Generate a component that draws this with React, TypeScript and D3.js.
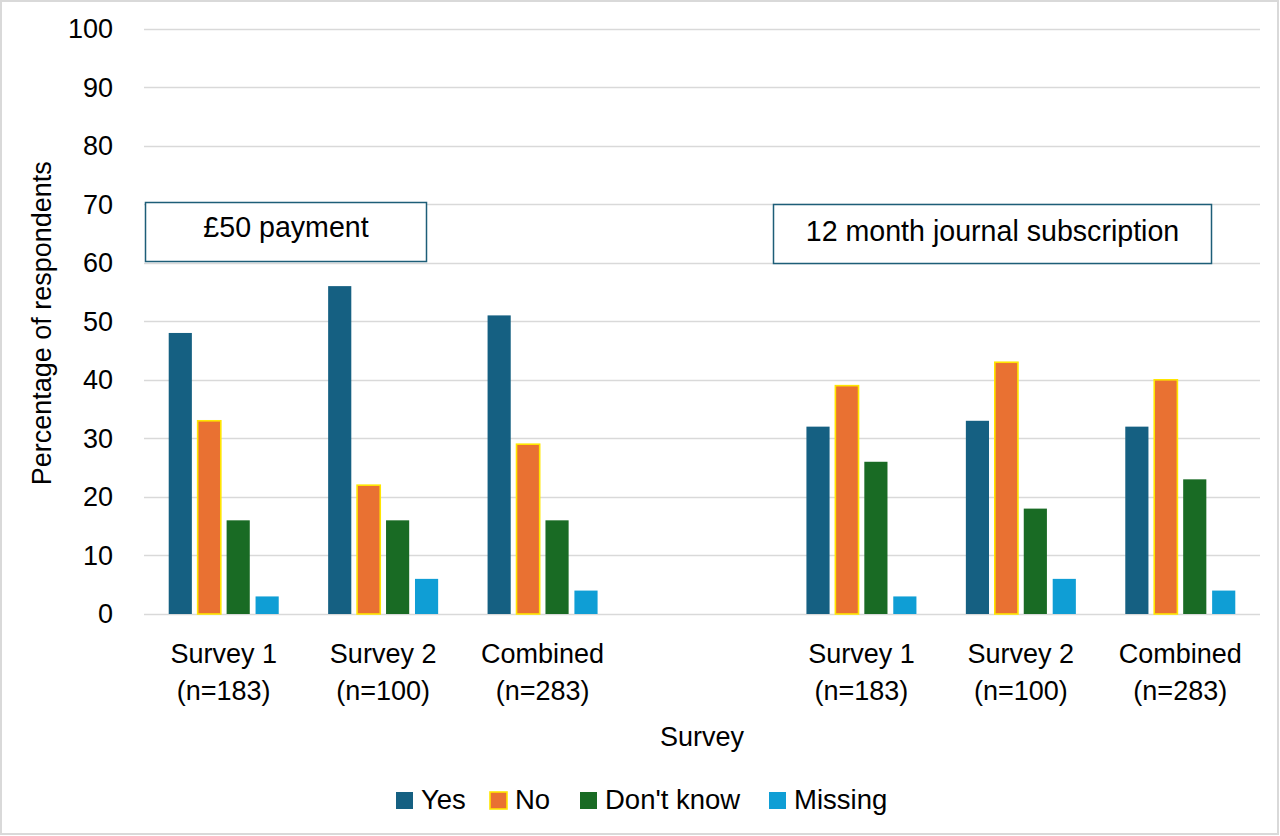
import React, { useEffect, useRef } from "react";
import * as d3 from "d3";

const categoryIds = ["s1a", "s2a", "ca", "gap", "s1b", "s2b", "cb"];
const categoryLine1 = ["Survey 1", "Survey 2", "Combined", "", "Survey 1", "Survey 2", "Combined"];
const categoryLine2 = ["(n=183)", "(n=100)", "(n=283)", "", "(n=183)", "(n=100)", "(n=283)"];

const seriesNames = ["Yes", "No", "Don't know", "Missing"];
const yesValues = [48, 56, 51, null, 32, 33, 32];
const noValues = [33, 22, 29, null, 39, 43, 40];
const dontKnowValues = [16, 16, 16, null, 26, 18, 23];
const missingValues = [3, 6, 4, null, 3, 6, 4];

const seriesColors = ["#156082", "#E97132", "#196B24", "#0F9ED5"];
const seriesStroke = ["none", "#FFE600", "none", "none"];

const yTicks = [0, 10, 20, 30, 40, 50, 60, 70, 80, 90, 100];
const annotations = ["£50 payment", "12 month journal subscription"];

const W = 1280;
const H = 836;

export default function App() {
  const ref = useRef<SVGSVGElement | null>(null);

  useEffect(() => {
    const svg = d3.select(ref.current);
    svg.selectAll("*").remove();

    const font = "'Liberation Sans', Arial, sans-serif";
    const left = 144, right = 1260, top = 28.5, bottom = 614;

    svg.append("rect").attr("x", 0).attr("y", 0).attr("width", W).attr("height", H).attr("fill", "#fff");
    svg.append("rect").attr("x", 1).attr("y", 1).attr("width", W - 3).attr("height", H - 3)
      .attr("fill", "none").attr("stroke", "#D9D9D9").attr("stroke-width", 2);

    const y = d3.scaleLinear().domain([0, 100]).range([bottom, top]);
    const x0 = d3.scaleBand<string>().domain(categoryIds).range([left, right])
      .paddingInner(0.31).paddingOuter(0.155);
    const x1 = d3.scaleBand<string>().domain(seriesNames).range([0, x0.bandwidth()])
      .paddingInner(0.2).paddingOuter(0);

    // gridlines
    svg.append("g").selectAll("line").data(yTicks).join("line")
      .attr("x1", left).attr("x2", right)
      .attr("y1", d => Math.round(y(d)) + 0.5).attr("y2", d => Math.round(y(d)) + 0.5)
      .attr("stroke", "#D9D9D9").attr("stroke-width", 1.3);

    // y tick labels
    svg.append("g").selectAll("text").data(yTicks).join("text")
      .attr("x", 113).attr("y", d => y(d)).attr("dy", "0.35em")
      .attr("text-anchor", "end").attr("font-family", font).attr("font-size", 27)
      .attr("fill", "#000").text(d => String(d));

    // y axis title
    svg.append("text")
      .attr("transform", `translate(51, ${(top + bottom) / 2 + 2}) rotate(-90)`)
      .attr("text-anchor", "middle").attr("font-family", font).attr("font-size", 27)
      .attr("fill", "#000").text("Percentage of respondents");

    // bars
    const allSeries = [yesValues, noValues, dontKnowValues, missingValues];
    allSeries.forEach((vals, si) => {
      const rows = categoryIds.map((c, i) => ({ c, v: vals[i] })).filter(r => r.v !== null) as { c: string; v: number }[];
      svg.append("g").selectAll("rect").data(rows).join("rect")
        .attr("x", d => (x0(d.c) as number) + (x1(seriesNames[si]) as number))
        .attr("width", x1.bandwidth())
        .attr("y", d => y(d.v))
        .attr("height", d => y(0) - y(d.v))
        .attr("fill", seriesColors[si])
        .attr("stroke", seriesStroke[si])
        .attr("stroke-width", seriesStroke[si] === "none" ? 0 : 1.6);
    });

    // category labels
    const cat = svg.append("g");
    categoryIds.forEach((c, i) => {
      const cx = (x0(c) as number) + x0.bandwidth() / 2;
      cat.append("text").attr("x", cx).attr("y", 663).attr("text-anchor", "middle")
        .attr("font-family", font).attr("font-size", 27).attr("fill", "#000").text(categoryLine1[i]);
      cat.append("text").attr("x", cx).attr("y", 700).attr("text-anchor", "middle")
        .attr("font-family", font).attr("font-size", 27).attr("fill", "#000").text(categoryLine2[i]);
    });

    // x axis title
    svg.append("text").attr("x", 702).attr("y", 746).attr("text-anchor", "middle")
      .attr("font-family", font).attr("font-size", 27).attr("fill", "#000").text("Survey");

    // annotation boxes
    const boxes = [
      { x: 145.5, y: 202.5, w: 281, h: 59, ty: 237 },
      { x: 773.5, y: 204.5, w: 438, h: 59, ty: 241 },
    ];
    boxes.forEach((b, i) => {
      svg.append("rect").attr("x", b.x).attr("y", b.y).attr("width", b.w).attr("height", b.h)
        .attr("fill", "#fff").attr("stroke", "#1D5E78").attr("stroke-width", 1.5);
      svg.append("text").attr("x", b.x + b.w / 2).attr("y", b.ty).attr("text-anchor", "middle")
        .attr("font-family", font).attr("font-size", 28.6).attr("fill", "#000").text(annotations[i]);
    });

    // legend
    const legendX = [396, 490, 580, 769];
    const lg = svg.append("g");
    seriesNames.forEach((s, i) => {
      lg.append("rect").attr("x", legendX[i]).attr("y", 792).attr("width", 17).attr("height", 17)
        .attr("fill", seriesColors[i]).attr("stroke", seriesStroke[i])
        .attr("stroke-width", seriesStroke[i] === "none" ? 0 : 1.6);
      lg.append("text").attr("x", legendX[i] + 25).attr("y", 809)
        .attr("font-family", font).attr("font-size", 27.5).attr("fill", "#000").text(s);
    });
  }, []);

  return (
    <div style={{ position: "absolute", left: 0, top: 0, width: W, height: H }}>
      <svg ref={ref} width={W} height={H} style={{ display: "block" }} />
    </div>
  );
}
